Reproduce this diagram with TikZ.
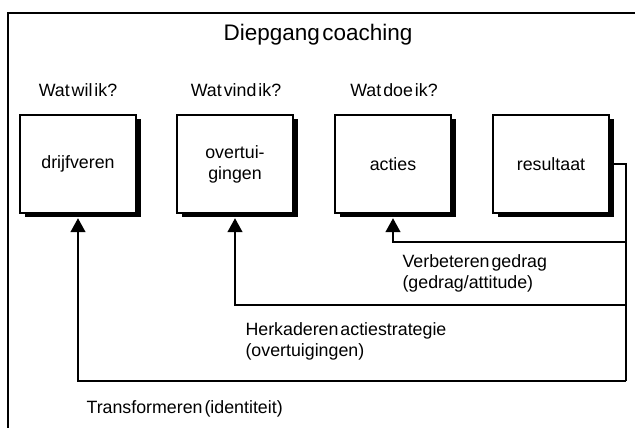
\documentclass[tikz,border=0pt]{standalone}
\usepackage{fontspec}
\setmainfont{Liberation Sans}[WordSpace=0.4]
\usepackage{tikz}
\usetikzlibrary{shadows, arrows.meta}

\tikzset{
  blok/.style={draw, fill=white, line width=1.5pt, minimum width=116pt,
    minimum height=98pt, align=center, font=\fontsize{17.8}{21}\selectfont,
    drop shadow={shadow xshift=4.5pt, shadow yshift=-4.5pt, fill=black, opacity=1}},
  vraag/.style={font=\fontsize{17.8}{20}\selectfont},
  uitleg/.style={anchor=west, align=left, font=\fontsize{17.8}{21}\selectfont},
  terug/.style={line width=1.5pt, -{Triangle[width=15pt,length=14pt]}}
}

\begin{document}
\begin{tikzpicture}[x=1pt, y=1pt]
  \useasboundingbox (0,0) rectangle (635,428);
  % kader
  \draw[line width=1.5pt] (8,0) -- (8,415) -- (640,415);
  \node[font=\fontsize{22.5}{26}\selectfont] (titel) at (318,393) {Diepgang coaching};
  % vragen
  \node[vraag] (wil) at (78,338) {Wat wil ik?};
  \node[vraag] (vind) at (236,338) {Wat vind ik?};
  \node[vraag] (doe) at (394,338) {Wat doe ik?};
  % blokken
  \node[blok] (drijf) at (78,264) {drijfveren};
  \node[blok] (overt) at (235,264) {overtui-\\gingen};
  \node[blok] (actie) at (393,264) {acties};
  \node[blok] (result) at (551,264) {resultaat};
  % terugkoppeling
  \coordinate (v1) at (626,186);
  \coordinate (v2) at (626,123);
  \coordinate (v3) at (626,47);
  \draw[line width=1.5pt] (result.east) -| (v3);
  \draw[terug] (v1) -| ([yshift=-4.5pt]actie.south);
  \draw[terug] (v2) -| ([yshift=-4.5pt]overt.south);
  \draw[terug] (v3) -| ([yshift=-4.5pt]drijf.south);
  % labels
  \node[uitleg] (verb) at (399,155) {Verbeteren gedrag\\(gedrag/attitude)};
  \node[uitleg] (herk) at (242,87) {Herkaderen actiestrategie\\(overtuigingen)};
  \node[uitleg] (trans) at (83,19) {Transformeren (identiteit)};
\end{tikzpicture}
\end{document}
